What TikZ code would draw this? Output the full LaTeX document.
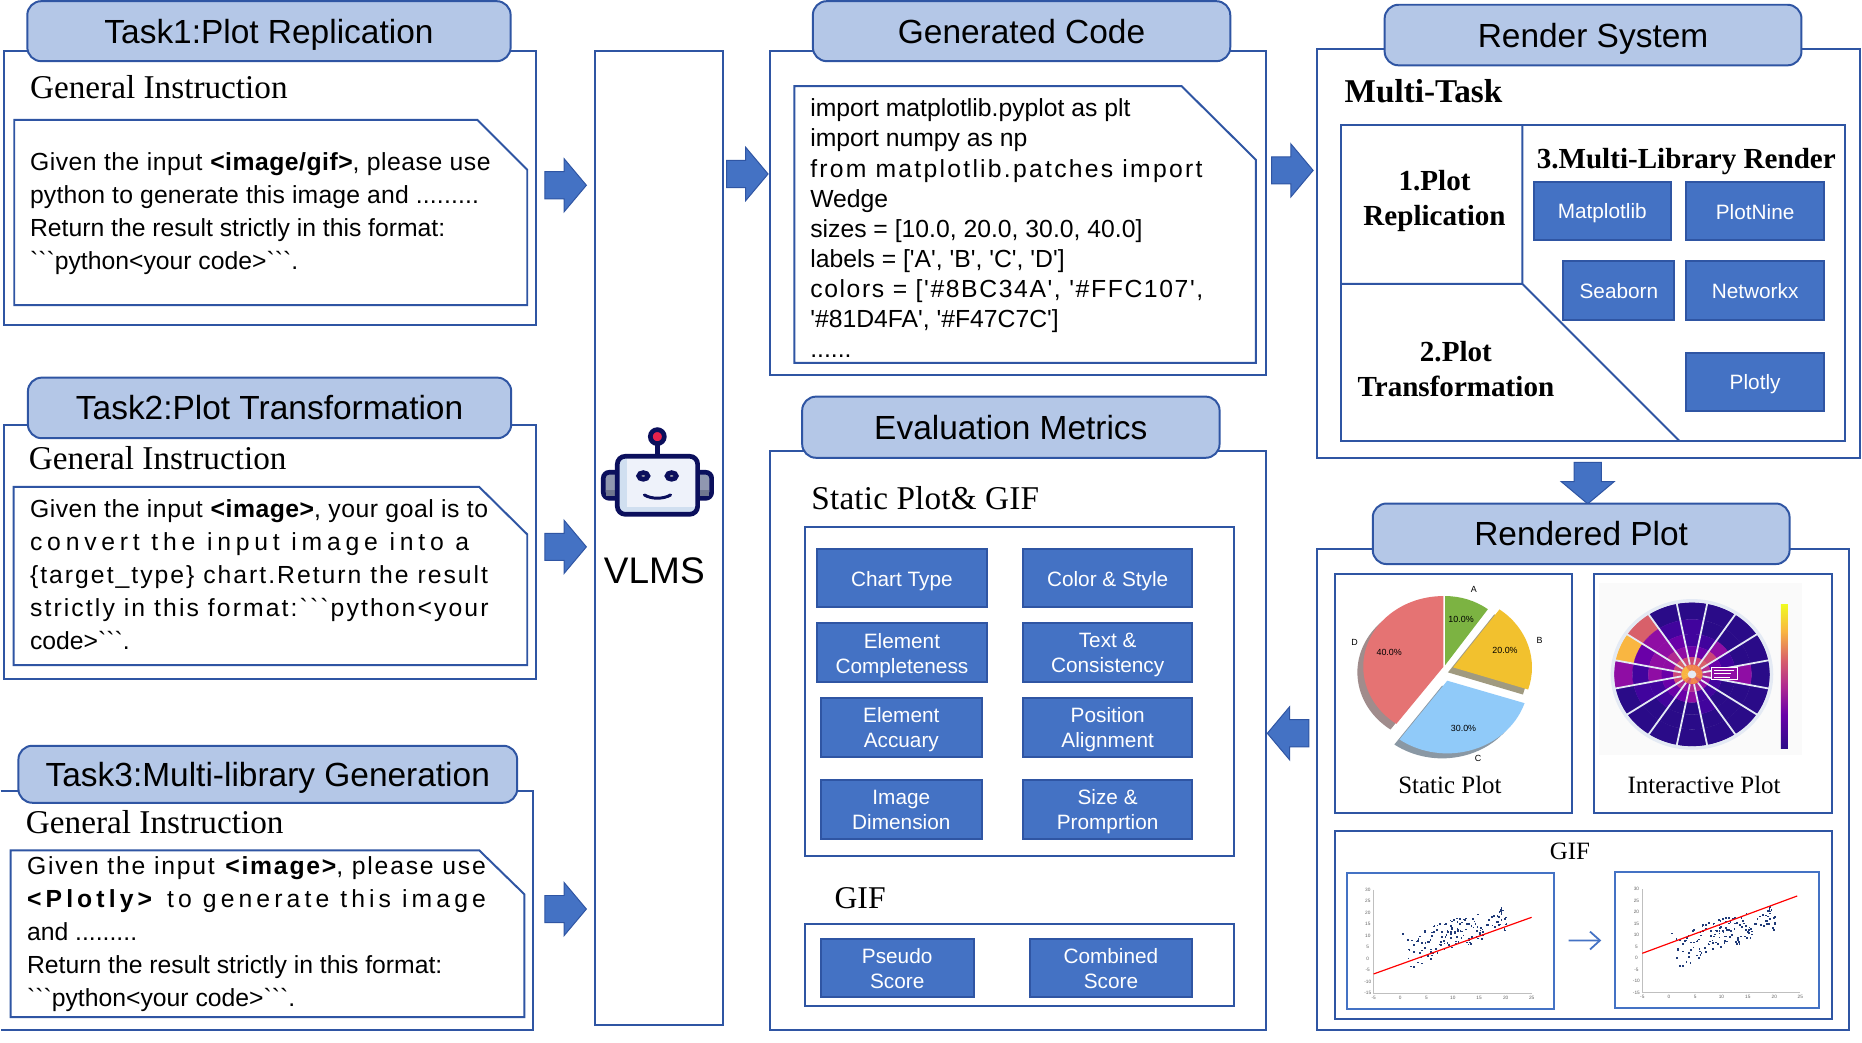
\documentclass[tikz,border=0pt]{standalone}
\usepackage{fontspec}
\usepackage{tikz}
\usetikzlibrary{arrows.meta,shapes.arrows}
\setmainfont{Liberation Serif}
\newfontfamily\arialfont{Liberation Sans}
\definecolor{edgeblue}{HTML}{2F55A3}
\definecolor{headblue}{HTML}{B4C7E7}
\definecolor{boxblue}{HTML}{4472C4}
\definecolor{ringblue}{HTML}{E4EAF4}
\definecolor{dotblue}{HTML}{1F3A78}
\definecolor{robotnavy}{HTML}{0B0F5C}
\definecolor{robotgrey}{HTML}{9097B0}
\definecolor{robotdark}{HTML}{70768F}
\definecolor{robotred}{HTML}{E8224C}
\definecolor{robotface}{HTML}{EEF2FA}
\definecolor{robotside}{HTML}{D0DFF0}
\definecolor{piegreen}{HTML}{7CB342}
\definecolor{pieyellow}{HTML}{F2C12E}
\definecolor{pieblue}{HTML}{90CAF9}
\definecolor{piered}{HTML}{E57373}
\definecolor{shadered}{HTML}{A08C8C}
\definecolor{shadeyellow}{HTML}{A09A80}
\definecolor{shadeblue}{HTML}{8A98A4}
\definecolor{pa}{HTML}{2A0B88}
\definecolor{pb}{HTML}{41049D}
\definecolor{pc}{HTML}{6A00A8}
\definecolor{pd}{HTML}{8F0DA4}
\definecolor{pe}{HTML}{B12A90}
\definecolor{pf}{HTML}{CC4778}
\definecolor{pg}{HTML}{D8606A}
\definecolor{ph}{HTML}{F1844B}
\definecolor{pi}{HTML}{F9B641}
\definecolor{pj}{HTML}{F0F921}
\pgfdeclareverticalshading{plasmabar}{100bp}{color(0bp)=(pa); color(25bp)=(pa); color(37bp)=(pc); color(47bp)=(pe); color(56bp)=(pg); color(66bp)=(pi); color(75bp)=(pj); color(100bp)=(pj)}
\tikzset{
  panel/.style={draw=edgeblue,line width=1pt,fill=white},
  notebox/.style={draw=edgeblue,line width=1pt,fill=white},
  headbox/.style={draw=edgeblue,line width=1pt,fill=headblue,rounded corners=7pt,
    every node/.style={text height=15.4pt,text depth=3.2pt,font=\arialfont\fontsize{16.9}{20}\selectfont}},
  libbox/.style={draw=edgeblue,line width=1pt,fill=boxblue,
    every node/.style={text=white,align=center,font=\arialfont\fontsize{10.5}{12.6}\selectfont,
      execute at begin node={\rule{0pt}{10.4pt}},execute at end node={\rule[-2pt]{0pt}{2pt}}}},
  twoline/.style={yshift=-1.2pt},
  serifhead/.style={anchor=base west,inner sep=0pt,font=\fontsize{16.8}{20}\selectfont},
  boldhead/.style={align=center,inner sep=0pt,font=\bfseries\fontsize{14.7}{17.7}\selectfont},
  notetext/.style={anchor=north west,inner sep=0pt,align=left,font=\arialfont\fontsize{12.5}{16.7}\selectfont},
  blockarrow/.style={single arrow,draw=edgeblue,line width=.5pt,fill=boxblue,inner xsep=0pt,inner ysep=6.6pt,
    minimum height=21pt,single arrow head extend=6.6pt,
    single arrow head indent=0pt,single arrow tip angle=100},
  giftext/.style={inner sep=0pt,font=\fontsize{12.6}{15}\selectfont},
  gifbox/.style={draw=boxblue,line width=1pt,inner sep=0pt},
  tiny/.style={inner sep=0pt,font=\arialfont\fontsize{4.5}{5}\selectfont},
  ticktext/.style={inner sep=0pt,text=black!60,font=\arialfont\fontsize{2.4}{3}\selectfont},
  robotline/.style={draw=robotnavy,line width=2.36pt}
}
\newcommand{\ticks}{```}
\newcommand{\spaced}[2]{{\addfontfeature{LetterSpace=#1}#2}}
\begin{document}
\begin{tikzpicture}[x=0.6pt,y=-0.6pt]
\useasboundingbox (0,0) rectangle (1568,878.3);
\fill[white] (0,0) rectangle (1568,878.3);
% task 1
\draw[panel] (3,43) rectangle (451,274);
\draw[headbox] (23,1) rectangle node (taskone) {Task1:Plot Replication} (430,51.5);
\node[serifhead] (instrone) at (25,83) {General Instruction};
\draw[notebox] (12,101)--(402,101)--(444,143)--(444,257)--(12,257)--cycle;
\node[notetext] (textone) at (25,128) {\spaced{2}{Given the input \textbf{<image/gif>}, please use}\\
\spaced{.7}{python to generate this image and .........}\\
Return the result strictly in this format:\\
\ticks python<your code>\ticks.};
% task 2
\draw[panel] (3,358) rectangle (451.5,572);
\draw[headbox] (23.5,318) rectangle node (tasktwo) {Task2:Plot Transformation} (430.5,369);
\node[serifhead] (instrtwo) at (24,395) {General Instruction};
\draw[notebox] (11.5,410)--(403.5,410)--(444,450)--(444,560)--(11.5,560)--cycle;
\node[notetext] (texttwo) at (25,420.5) {\spaced{2.1}{Given the input \textbf{<image>}, your goal is to}\\
\spaced{19.3}{convert the input image into a}\\
\spaced{8.1}{\{target\_type\} chart.Return the result}\\
\spaced{8.5}{strictly in this format:\ticks python<your}\\
code>\ticks.};
% task 3
\draw[panel] (0.5,666)--(449,666)--(449,867)--(0.5,867);
\draw[headbox] (15.5,628) rectangle node (taskthree) {Task3:Multi-library Generation} (435.5,676);
\node[serifhead] (instrthree) at (21.5,702) {General Instruction};
\draw[notebox] (9,716)--(403.5,716)--(441.5,753)--(441.5,856.5)--(9,856.5)--cycle;
\node[notetext] (textthree) at (22.5,721) {\spaced{7.2}{Given the input \textbf{<image>}, please use}\\
\spaced{16.6}{\textbf{<Plotly>} to generate this image}\\
and .........\\
Return the result strictly in this format:\\
\ticks python<your code>\ticks.};
% arrows
\node[blockarrow] (arrowone) at (471.5,156) {};
\node[blockarrow] (arrowtwo) at (471.5,460.5) {};
\node[blockarrow] (arrowthree) at (471.5,765.5) {};
\node[blockarrow] (arrowcode) at (624.5,146.5) {};
\node[blockarrow] (arrowrender) at (1083.5,143.5) {};
\node[blockarrow,inner xsep=6.6pt,inner ysep=0pt,shape border rotate=270] (arrowplot) at (1337,402) {};
\node[blockarrow,shape border rotate=180] (arrowmetric) at (1089.5,617.5) {};
% vlms
\draw[panel] (501,43) rectangle (609,863);
\node[font=\arialfont\fontsize{18.7}{22}\selectfont,inner sep=0pt] (vlms) at (551,481) {VLMS};
\begin{scope}[shift={(488.4,336.8)},x=0.1684pt,y=-0.1684pt]
\draw[robotline,fill=robotgrey,rounded corners=3pt] (70,217) rectangle (130,295);
\draw[robotline,fill=robotgrey,rounded corners=3pt] (335,217) rectangle (395,295);
\fill[robotdark] (77,270) rectangle (120,288);
\fill[robotdark] (345,270) rectangle (388,288);
\draw[robotline] (232,165)--(232,135);
\draw[robotline,fill=robotred] (232,110) circle[radius=21];
\fill[robotside,rounded corners=4pt] (112,169) rectangle (353,343);
\fill[robotface] (140,172) rectangle (350,320);
\draw[robotline,rounded corners=4pt] (112,169) rectangle (353,343);
\draw[robotline,fill=black!30] (190,228) ellipse[x radius=14,y radius=10];
\draw[robotline,fill=black!30] (275,228) ellipse[x radius=14,y radius=10];
\draw[draw=robotnavy,line width=1.5pt,line cap=round] (193,285) .. controls (215,298) and (250,298) .. (272,285);
\end{scope}
% generated code
\draw[panel] (648,43) rectangle (1066,316);
\draw[headbox] (684.5,1) rectangle node (codehead) {Generated Code} (1036,51.5);
\draw[notebox] (669,72.5)--(995,72.5)--(1057.5,134.5)--(1057.5,305.5)--(669,305.5)--cycle;
\node[notetext,font=\arialfont\fontsize{12.5}{15.2}\selectfont] (codetext) at (682,83) {import matplotlib.pyplot as plt\\
import numpy as np\\
\spaced{9.1}{from matplotlib.patches import}\\
Wedge\\
sizes = [10.0, 20.0, 30.0, 40.0]\\
labels = ['A', 'B', 'C', 'D']\\
\spaced{6.5}{colors = ['\#8BC34A', '\#FFC107',}\\
'\#81D4FA', '\#F47C7C']\\
......};
% evaluation metrics
\draw[panel] (648,380) rectangle (1066,867);
\draw[headbox] (675.5,334) rectangle node (evalhead) {Evaluation Metrics} (1027,385.5);
\node[serifhead] (staticgif) at (683,429) {\spaced{.5}{Static Plot\& GIF}};
\draw[panel] (678,444) rectangle (1039,721);
\draw[libbox] (688,462) rectangle node (charttype) {Chart Type} (831,511.5);
\draw[libbox] (861.5,462) rectangle node (colorstyle) {Color \& Style} (1004,511.5);
\draw[libbox] (688,525) rectangle node[twoline] (elemcomp) {Element\\Completeness} (831,574.5);
\draw[libbox] (861.5,525) rectangle node[twoline] (textcons) {Text \&\\Consistency} (1004,574.5);
\draw[libbox] (691,588) rectangle node[twoline] (elemacc) {Element\\Accuary} (827,637.5);
\draw[libbox] (861.5,588) rectangle node[twoline] (posalign) {Position\\Alignment} (1004,637.5);
\draw[libbox] (691,657) rectangle node[twoline] (imagedim) {Image\\Dimension} (827,706.5);
\draw[libbox] (861.5,657) rectangle node[twoline] (sizeprop) {Size \&\\Promprtion} (1004,706.5);
\node[serifhead,font=\fontsize{16}{20}\selectfont] (gifhead) at (702.5,765) {GIF};
\draw[panel] (678,778) rectangle (1039,847.5);
\draw[libbox] (691,790.5) rectangle node[twoline] (pseudo) {Pseudo\\Score} (820,839.5);
\draw[libbox] (867,790.5) rectangle node[twoline] (combined) {Combined\\Score} (1004,839.5);
% render system
\draw[panel] (1109,41) rectangle (1566,385.5);
\draw[headbox] (1166,4) rectangle node (renderhead) {Render System} (1517,55);
\node[serifhead,font=\bfseries\fontsize{16.8}{20}\selectfont] (multitask) at (1132,86) {Multi-Task};
\draw[panel] (1129,105) rectangle (1554,371);
\draw[edgeblue,line width=1pt] (1129,239)--(1282,239) (1282,105)--(1282,239)--(1414,371);
\node[boldhead] (planone) at (1208,169.5) {1.Plot\\Replication};
\node[boldhead] (plantwo) at (1226,311) {2.Plot\\Transformation};
\node[boldhead] (planthree) at (1420,136) {3.Multi-Library Render};
\draw[libbox] (1291.5,153) rectangle node (matplotlib) {Matplotlib} (1407,202);
\draw[libbox] (1420,153) rectangle node (plotnine) {PlotNine} (1536,202);
\draw[libbox] (1316.5,220) rectangle node (seaborn) {Seaborn} (1410,269.5);
\draw[libbox] (1420,220) rectangle node (networkx) {Networkx} (1536,269.5);
\draw[libbox] (1420,297) rectangle node (plotly) {Plotly} (1536,346);
% rendered plot
\draw[panel] (1109,462) rectangle (1557,867);
\draw[headbox] (1156,424) rectangle node (plothead) {Rendered Plot} (1507,475);
\draw[panel] (1124,483) rectangle (1324,685);
\draw[panel] (1342,483) rectangle (1543,685);
\draw[panel] (1124,700) rectangle (1543,858);
\node[giftext] (staticcap) at (1221,661) {Static Plot};
\node[giftext] (interactcap) at (1435,661) {Interactive Plot};
\node[giftext] (gifcap) at (1322,717) {GIF};
% static pie
\begin{scope}[shift={(1111.6,463.2)},x=0.1747pt,y=-0.1684pt]
\fill[shadered] (340,367)--++(-90:232 and 212) arc[start angle=-90,end angle=-234,x radius=232,y radius=212]--cycle;
\fill[shadeyellow] (370,367)--++(-54:228 and 215) arc[start angle=-54,end angle=18,x radius=228,y radius=215]--cycle;
\fill[shadeblue] (353,407)--++(18:235 and 218) arc[start angle=18,end angle=126,x radius=235,y radius=218]--cycle;
\fill[white] (345,345)--(360,345)--(345,360)--cycle;
\fill[piegreen] (362,345)--++(-90:210 and 207) arc[start angle=-90,end angle=-54,x radius=210,y radius=207]--cycle;
\fill[pieyellow] (385,352)--++(-54:228 and 215) arc[start angle=-54,end angle=18,x radius=228,y radius=215]--cycle;
\fill[pieblue] (368,392)--++(18:235 and 218) arc[start angle=18,end angle=126,x radius=235,y radius=218]--cycle;
\fill[piered] (357,350)--++(-90:232 and 212) arc[start angle=-90,end angle=-234,x radius=232,y radius=212]--cycle;
\node[tiny] (labela) at (445,118) {A};
\node[tiny] (labelb) at (635,272) {B};
\node[tiny] (labelc) at (457,625) {C};
\node[tiny] (labeld) at (100,278) {D};
\node[tiny] (pctten) at (408,207) {10.0\%};
\node[tiny] (pcttwenty) at (535,300) {20.0\%};
\node[tiny] (pctthirty) at (415,535) {30.0\%};
\node[tiny] (pctforty) at (200,307) {40.0\%};
\end{scope}
% interactive polar
\begin{scope}[shift={(1338.9,484.2)},x=0.1684pt,y=-0.1684pt]
\fill[black!2] (28,25) rectangle (635,540);
\shade[shading=plasmabar] (573,90) rectangle (594,522);
\end{scope}
\begin{scope}[shift={(1424.8,567.9)},x=0.182pt,y=0.1684pt]
\foreach \ang/\bandA/\bandB/\bandC/\bandD/\bandE/\bandF in {90/pa/pb/pb/pc/pf/ph,67.5/pa/pa/pb/pc/pf/ph,45/pa/pa/pd/pf/pg/ph,22.5/pa/pa/pb/pc/pe/ph,0/pa/pd/pd/pb/pe/ph,-22.5/pa/pa/pa/pb/pd/ph,-45/pa/pa/pa/pb/pd/pg,-67.5/pa/pa/pb/pb/pe/ph,-90/pa/pa/pa/pd/pe/ph,-112.5/pa/pa/pa/pc/pd/pg,-135/pa/pa/pb/pc/pe/ph,-157.5/pa/pb/pb/pc/pf/pi,180/pd/pb/pd/pc/pf/pi,157.5/pi/pc/pd/pd/pf/pi,135/pg/pd/pd/pe/pg/pi,112.5/pa/pb/pc/pd/pf/ph}{
  \foreach \ri/\ro/\col in {165/216/\bandA,121/165/\bandB,84/121/\bandC,52/84/\bandD,29/52/\bandE,10/29/\bandF}{
    \fill[\col,draw=\col,line width=.1pt] (\ang-11.25:\ro) arc[start angle=\ang-11.25,end angle=\ang+11.25,radius=\ro]--(\ang+11.25:\ri) arc[start angle=\ang+11.25,end angle=\ang-11.25,radius=\ri]--cycle;
  }
}
\foreach \ang in {11.25,33.75,...,348.75}{
  \draw[ringblue,line width=.9pt] (\ang:30)--(\ang:218);
}
\draw[ringblue,line width=1.7pt] (0,0) circle[radius=221];
\fill[ringblue] (0,0) circle[radius=12];
\draw[white,line width=.3pt,fill=pd] (55,-15) rectangle (125,20);
\draw[white,line width=.4pt] (62,-8)--(105,-8) (62,2)--(108,2) (62,12)--(118,12);
\end{scope}
% gif frames
\node[gifbox,minimum width=105pt,minimum height=69pt] (frameone) at (1221.5,792.5) {};
\node[gifbox,minimum width=102.9pt,minimum height=69pt] (frametwo) at (1446,791.5) {};
\draw[boxblue,line width=.9pt,shorten <=6.6pt,shorten >=6.6pt,-{Straight Barb[length=5pt,width=9pt]}] (frameone)--(frametwo);
\begin{scope}[shift={(1111.6,690.5)},x=0.1747pt,y=-0.1684pt]
\foreach \dx/\dy in {0/0,777/-2}{
  \draw[black!25,line width=.2pt] (155+\dx,210+\dy)--(155+\dx,520+\dy)--(612+\dx,520+\dy);
  \pgfmathsetseed{47}
  \foreach \i in {1,...,150}{
    \pgfmathsetmacro{\px}{232+rnd*305}
    \pgfmathsetmacro{\py}{398-(\px-232)*0.36+(rnd-0.5)*(118-(\px-232)*0.13)}
    \fill[dotblue] (\px+\dx,\py+\dy) rectangle ++(5,5);
  }
  \foreach \yy/\ytxt in {210/30,244/25,279/20,313/15,348/10,382/5,417/0,451/-5,486/-10,520/-15}{
    \node[ticktext] (ytick\dx\yy) at (138+\dx,\yy+\dy) {\ytxt};
  }
  \foreach \xx/\xtxt in {155/-5,232/0,308/5,384/10,460/15,537/20,612/25}{
    \node[ticktext] (xtick\dx\xx) at (\xx+\dx,533+\dy) {\xtxt};
  }
}
\draw[red,line width=.6pt] (155,462)--(612,292);
\draw[red,line width=.6pt] (932,400)--(1380,228);
\end{scope}
\end{tikzpicture}
\end{document}
